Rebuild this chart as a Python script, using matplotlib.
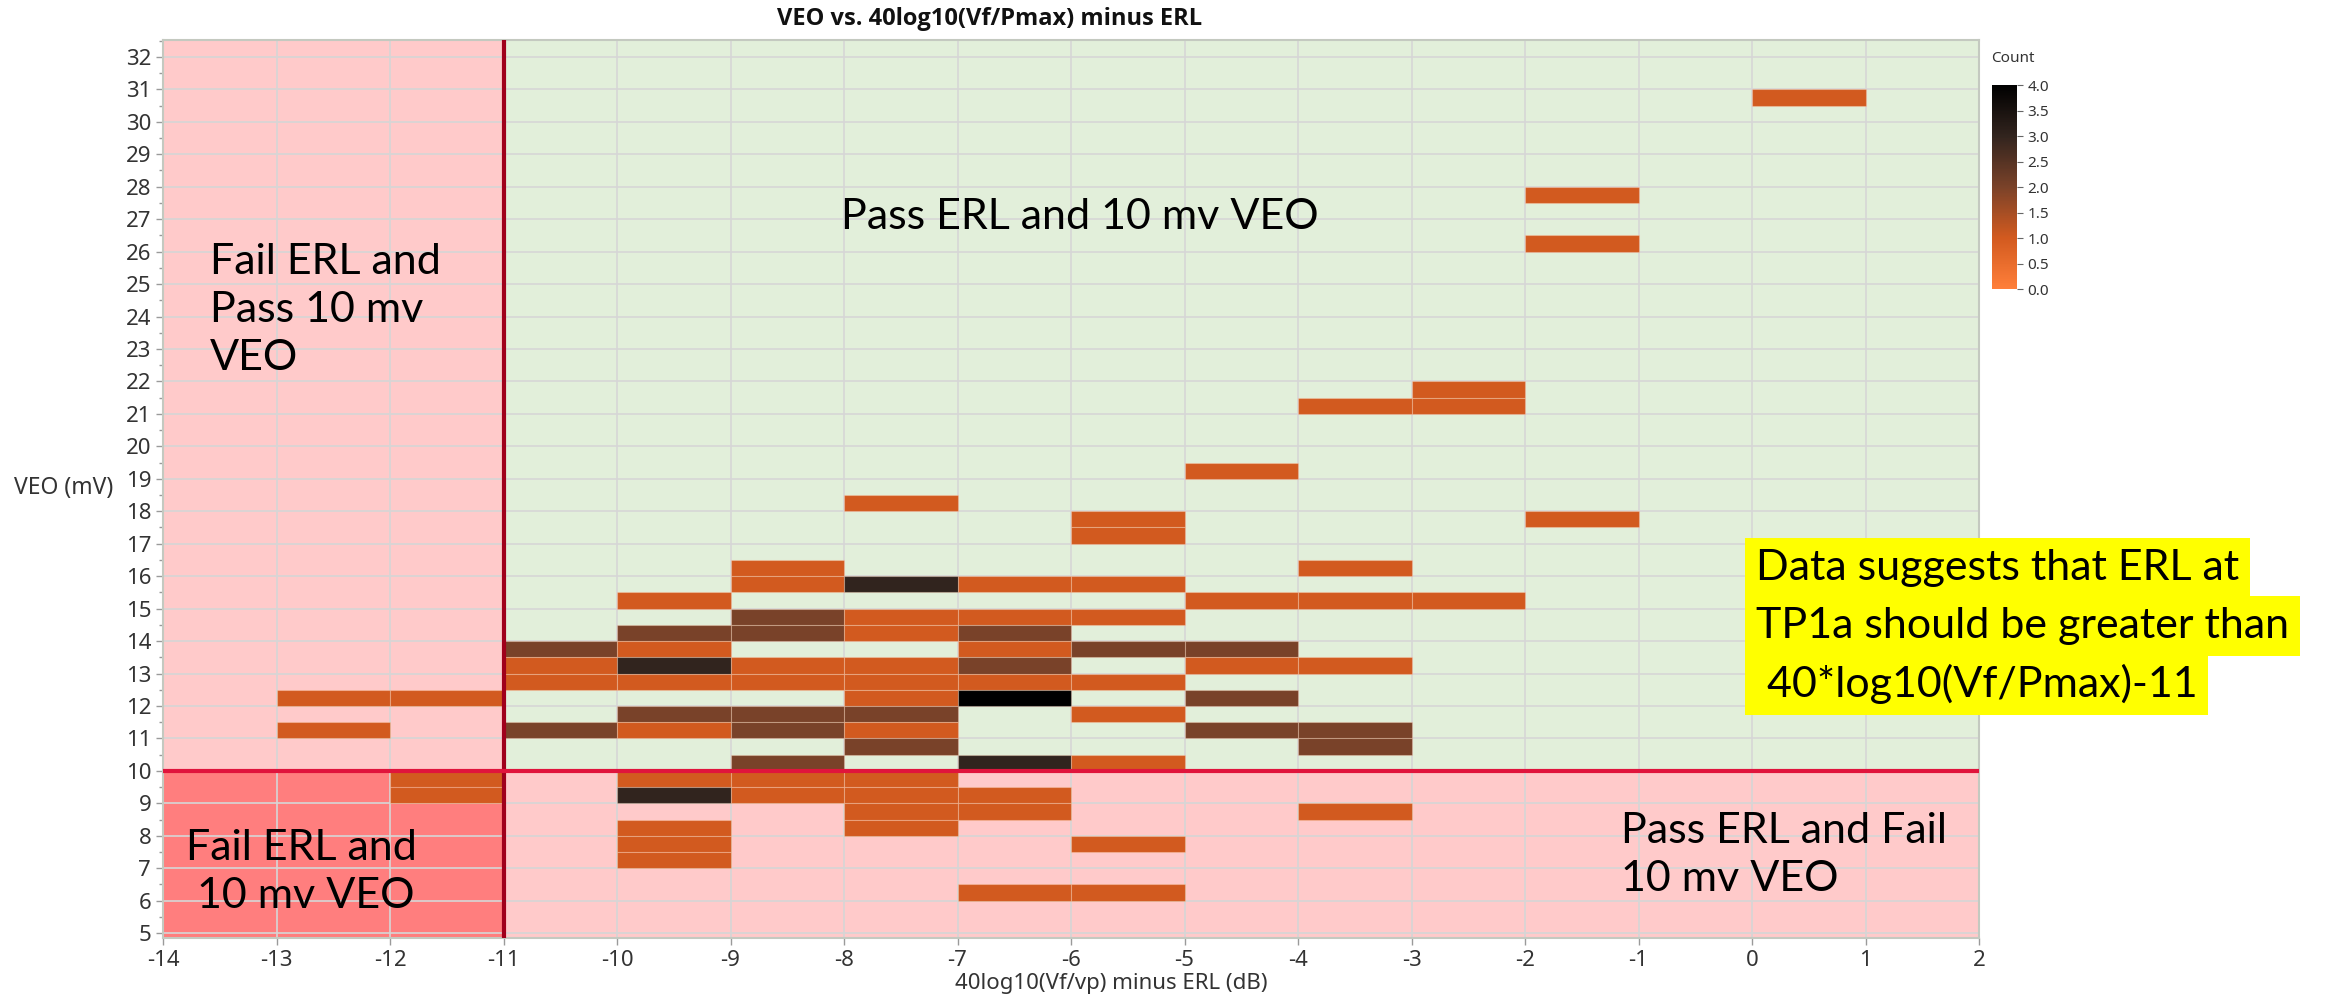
import matplotlib
matplotlib.use("Agg")
import matplotlib.pyplot as plt
import numpy as np
from matplotlib.colors import LinearSegmentedColormap, Normalize
from matplotlib.ticker import MultipleLocator, FormatStrFormatter

plt.rcParams["axes.unicode_minus"] = False

# ---------------- data ----------------
# left edge of each 1 dB bin, bottom of each 0.5 mV VEO bin, count in that cell
cell_x = [-13, -13,
          -12, -12, -12,
          -11, -11, -11, -11,
          -10, -10, -10, -10, -10, -10, -10, -10, -10, -10, -10, -10,
          -9, -9, -9, -9, -9, -9, -9, -9, -9, -9, -9,
          -8, -8, -8, -8, -8, -8, -8, -8, -8, -8, -8, -8, -8, -8,
          -7, -7, -7, -7, -7, -7, -7, -7, -7, -7, -7,
          -6, -6, -6, -6, -6, -6, -6, -6, -6, -6,
          -5, -5, -5, -5, -5, -5,
          -4, -4, -4, -4, -4, -4, -4,
          -3, -3, -3,
          -2, -2, -2,
          0]
cell_y = [12.0, 11.0,
          12.0, 9.5, 9.0,
          13.5, 13.0, 12.5, 11.0,
          15.0, 14.0, 13.5, 13.0, 12.5, 11.5, 11.0, 9.5, 9.0, 8.0, 7.5, 7.0,
          16.0, 15.5, 14.5, 14.0, 13.0, 12.5, 11.5, 11.0, 10.0, 9.5, 9.0,
          18.0, 15.5, 14.5, 14.0, 13.0, 12.5, 12.0, 11.5, 11.0, 10.5, 9.5, 9.0, 8.5, 8.0,
          15.5, 14.5, 14.0, 13.5, 13.0, 12.5, 12.0, 10.0, 9.0, 8.5, 6.0,
          17.5, 17.0, 15.5, 14.5, 13.5, 12.5, 11.5, 10.0, 7.5, 6.0,
          19.0, 15.0, 13.5, 13.0, 12.0, 11.0,
          21.0, 16.0, 15.0, 13.0, 11.0, 10.5, 8.5,
          21.5, 21.0, 15.0,
          27.5, 26.0, 17.5,
          30.5]
cell_count = [1, 1,
              1, 1, 1,
              2, 1, 1, 2,
              1, 2, 1, 3, 1, 2, 1, 1, 3, 1, 1, 1,
              1, 1, 2, 2, 1, 1, 2, 2, 2, 1, 1,
              1, 3, 1, 1, 1, 1, 1, 2, 1, 2, 1, 1, 1, 1,
              1, 1, 2, 1, 2, 1, 4, 3, 1, 1, 1,
              1, 1, 1, 1, 2, 1, 1, 1, 1, 1,
              1, 1, 2, 1, 2, 2,
              1, 1, 1, 1, 2, 2, 1,
              1, 1, 1,
              1, 1, 1,
              1]

x_ticks = list(range(-14, 3))
y_ticks = list(range(5, 33))
cbar_ticks = [0.0, 0.5, 1.0, 1.5, 2.0, 2.5, 3.0, 3.5, 4.0]
erl_limit = -11
veo_limit = 10

title = "VEO vs. 40log10(Vf/Pmax) minus ERL"
xlabel = "40log10(Vf/vp) minus ERL (dB)"
ylabel = "VEO (mV)"
note_lines = ["Data suggests that ERL at", "TP1a should be greater than", " 40*log10(Vf/Pmax)-11"]

# ---------------- figure ----------------
W, H = 2333, 1005
fig = plt.figure(figsize=(W / 100, H / 100), dpi=100)
fig.patch.set_facecolor("white")

L, R, T, B = 163, 1979, 40, 938
ax = fig.add_axes([L / W, 1 - B / H, (R - L) / W, (B - T) / H])
ax.set_xlim(-14, 2)
ax.set_ylim(4.85, 32.52)

green = "#E2EFDA"
pink = "#FFCACA"
dpink = "#FF7E7E"
ax.set_facecolor(green)
ax.axvspan(-14, erl_limit, color=pink, zorder=0.2, lw=0)
ax.axhspan(4.85, veo_limit, color=pink, zorder=0.2, lw=0)
ax.fill_between([-14, erl_limit], 4.85, veo_limit, color=dpink, zorder=0.25, lw=0)

ax.set_axisbelow(True)
ax.grid(True, which="major", color="#D6D6D6", lw=1.2)

cmap = LinearSegmentedColormap.from_list(
    "count", [(0.0, "#FF7F3A"), (0.25, "#D25A1F"), (0.5, "#7A4229"),
              (0.75, "#32241E"), (1.0, "#000000")])
norm = Normalize(0, 4)
colors = [cmap(norm(c)) for c in cell_count]
ax.bar(cell_x, 0.5, width=1.0, bottom=cell_y, align="edge", color=colors,
       edgecolor=(1, 0.85, 0.75, 0.35), linewidth=0.8, zorder=1)

ax.axvline(erl_limit, color="#A0001C", lw=3, zorder=3)
ax.axhline(veo_limit, color="#E0143C", lw=3, zorder=3)

ax.set_xticks(x_ticks)
ax.set_yticks(y_ticks)
ax.yaxis.set_minor_locator(MultipleLocator(0.5))
tick_font = "Noto Sans"
for lab in ax.get_xticklabels() + ax.get_yticklabels():
    lab.set_fontfamily(tick_font)
ax.tick_params(axis="both", which="major", labelsize=16, colors="#9A9A9A",
               labelcolor="#333333", length=5, width=1)
ax.tick_params(axis="y", which="minor", colors="#9A9A9A", length=3, width=1)
for s in ax.spines.values():
    s.set_color("#C4C9C0")
    s.set_linewidth(1.5)

fig.text(1111 / W, 1 - 983 / H, xlabel, ha="center", va="center",
         fontsize=16, family=tick_font, color="#333333")
fig.text(14 / W, 1 - 488 / H, ylabel, ha="left", va="center",
         fontsize=16.5, family=tick_font, color="#333333")
fig.text(990 / W, 1 - 19 / H, title, ha="center", va="center",
         fontsize=17, family="Open Sans", weight="bold", color="#111111")

# region annotations
afont = "Lato"
asize = 31
ax.text(-8.03, 27.07, "Pass ERL and 10 mv VEO", ha="left", va="center",
        fontsize=asize, family=afont, zorder=5)
ax.text(-13.59, 24.2, "Fail ERL and\nPass 10 mv\nVEO", ha="left", va="center",
        fontsize=asize, family=afont, linespacing=1.32, zorder=5)
ax.text(-13.8, 6.88, "Fail ERL and\n 10 mv VEO", ha="left", va="center",
        fontsize=asize, family=afont, linespacing=1.32, zorder=5)
ax.text(-1.15, 7.4, "Pass ERL and Fail\n10 mv VEO", ha="left", va="center",
        fontsize=asize, family=afont, linespacing=1.32, zorder=5)

for i, line in enumerate(note_lines):
    fig.text(1756 / W, 1 - (568 + 58 * i) / H, line, ha="left", va="center",
             fontsize=asize, family=afont, zorder=6 + i,
             bbox=dict(boxstyle="square,pad=0.25", fc="#FFFF00", ec="none"))

# colorbar
cax = fig.add_axes([1992 / W, 1 - 289 / H, 25 / W, 204 / H])
sm = matplotlib.cm.ScalarMappable(norm=norm, cmap=cmap)
cb = fig.colorbar(sm, cax=cax, ticks=cbar_ticks)
cb.outline.set_visible(False)
cb.ax.yaxis.set_major_formatter(FormatStrFormatter("%.1f"))
cb.ax.tick_params(labelsize=11, colors="#666666", labelcolor="#333333", length=4)
for lab in cb.ax.get_yticklabels():
    lab.set_fontfamily(tick_font)
fig.text(1991 / W, 1 - 59 / H, "Count", ha="left", va="center", fontsize=11,
         family=tick_font, color="#333333")

fig.savefig("out.png", dpi=100)
